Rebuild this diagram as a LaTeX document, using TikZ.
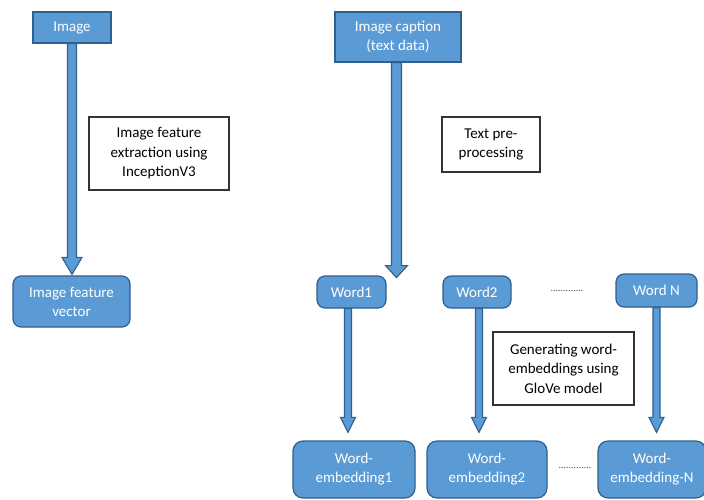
\documentclass[tikz,border=0pt]{standalone}
\usepackage{fontspec}
\setmainfont{Carlito}
\usetikzlibrary{calc,backgrounds}
\definecolor{boxblue}{HTML}{5B9BD5}
\definecolor{boxedge}{HTML}{2F5F8C}
\definecolor{txtedge}{HTML}{333333}
\tikzset{
  bluebox/.style={draw=boxedge, fill=boxblue, line width=1.2pt, inner sep=0pt,
    text=white, align=center, font=\fontsize{15}{19}\selectfont},
  roundbox/.style={bluebox, rounded corners=8pt},
  notebox/.style={draw=txtedge, fill=white, line width=1.2pt, inner sep=0pt,
    text=black, align=center, font=\fontsize{15}{19.5}\selectfont},
  dotstext/.style={inner sep=0pt, text=black!70, font=\fontsize{10}{12}\selectfont},
  barrow/.style={fill=boxblue, draw=boxedge, line width=1.1pt, line join=miter}
}
% #1 start point, #2 end point, #3 shaft half width, #4 head half width, #5 head length, #6 gap
\newcommand\blockarrow[6]{%
  \filldraw[barrow] let \p1=(#1), \p2=(#2) in
    (\x1-#3,\y1) -- (\x1-#3,\y2+#5+#6) -- (\x1-#4,\y2+#5+#6) -- (\x1,\y2+#6)
    -- (\x1+#4,\y2+#5+#6) -- (\x1+#3,\y2+#5+#6) -- (\x1+#3,\y1) -- cycle;}
\begin{document}
\begin{tikzpicture}[x=1pt,y=-1pt]
\useasboundingbox (0,0) rectangle (704,499);
% top row
\node[bluebox, minimum width=78pt, minimum height=31pt] (img) at (72,27.5) {Image};
\node[bluebox, minimum width=126pt, minimum height=50pt] (cap) at (398,37) {Image caption\\(text data)};
\node[notebox, minimum width=140pt, minimum height=73pt] (ext) at (159,153.5) {Image feature\\extraction using\\InceptionV3};
\node[notebox, minimum width=98pt, minimum height=55pt] (pre) at (491,144.5) {Text pre-\\processing};
\node[roundbox, minimum width=117pt, minimum height=51pt] (ifv) at (71.5,301.5) {Image feature\\vector};
% words
\node[roundbox, minimum width=69pt, minimum height=32pt] (w1) at (351.5,292) {Word1};
\node[roundbox, minimum width=68pt, minimum height=32pt] (w2) at (477,292) {Word2};
\node[roundbox, minimum width=81pt, minimum height=33pt] (wN) at (656.5,290.5) {Word N};
\node[dotstext] (d1) at (567,291) {.............};
\node[notebox, minimum width=141pt, minimum height=73pt] (gen) at (563.5,368.5) {Generating word-\\embeddings using\\GloVe model};
% embeddings
\node[roundbox, rounded corners=10pt, minimum width=122pt, minimum height=57pt] (e1) at (354,469.5) {Word-\\embedding1};
\node[roundbox, rounded corners=10pt, minimum width=120pt, minimum height=57pt] (e2) at (487,469.5) {Word-\\embedding2};
\node[roundbox, rounded corners=10pt, minimum width=108pt, minimum height=57pt] (eN) at (652,469.5) {Word-\\embedding-N};
\node[dotstext] (d2) at (575,468) {.............};
\coordinate (capend) at ($(cap.south)+(0,215)$);
\begin{scope}[on background layer]
\blockarrow{img.south}{ifv.north}{4.5pt}{10pt}{17pt}{1pt}
\blockarrow{$(cap.south)+(-1.5,0)$}{capend}{5pt}{11pt}{12pt}{0pt}
\blockarrow{$(w1.south)+(-3.5,0)$}{e1.north}{3.5pt}{7.5pt}{15pt}{8pt}
\blockarrow{$(w2.south)+(2,0)$}{e2.north}{3.5pt}{7.5pt}{15pt}{8pt}
\blockarrow{wN.south}{eN.north}{3.5pt}{7.5pt}{15pt}{8pt}
\end{scope}
\end{tikzpicture}
\end{document}
